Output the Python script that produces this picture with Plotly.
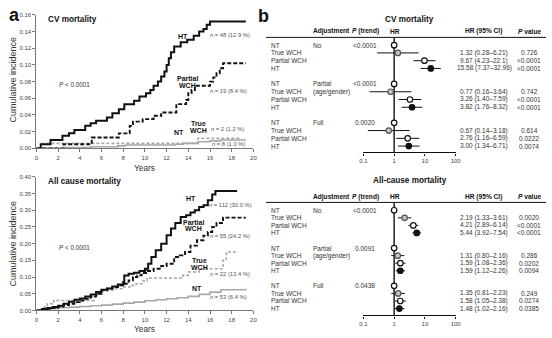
import plotly.graph_objects as go

W, H = 552, 338
def fx(p): return p / W
def fy(p): return 1 - p / H

FONT = "Liberation Sans, Arial, sans-serif"

# ---------------- Panel a: cumulative incidence data ----------------
year_ticks = [0, 2, 4, 6, 8, 10, 12, 14, 16, 18, 20]

# CV mortality
cv_ht_t = [0, 0.4, 1.3, 2.4, 3.0, 3.5, 4.5, 5.0, 5.5, 6.5, 7.0, 7.6, 8.1, 9.0, 9.5, 10.1, 10.5, 10.8, 11.2, 11.5, 11.8, 12.0, 12.2, 12.4, 12.7, 13.3, 13.9, 14.5, 15.0, 15.4, 15.7, 16.0, 19.3]
cv_ht_v = [0, 0.005, 0.010, 0.015, 0.018, 0.022, 0.027, 0.030, 0.033, 0.037, 0.042, 0.047, 0.053, 0.057, 0.062, 0.066, 0.070, 0.075, 0.080, 0.086, 0.092, 0.100, 0.108, 0.115, 0.122, 0.127, 0.130, 0.135, 0.140, 0.143, 0.148, 0.152, 0.152]
cv_pw_t = [0, 2.5, 5.1, 7.6, 8.6, 8.9, 9.8, 10.8, 11.5, 12.9, 13.8, 14.0, 14.3, 14.6, 16.0, 16.3, 16.6, 16.9, 17.2, 19.3]
cv_pw_v = [0, 0.005, 0.013, 0.018, 0.027, 0.032, 0.035, 0.039, 0.043, 0.053, 0.058, 0.066, 0.070, 0.075, 0.080, 0.085, 0.090, 0.096, 0.102, 0.102]
cv_tw_t = [0, 0.6, 14.9, 18.9]
cv_tw_v = [0, 0.006, 0.012, 0.012]
cv_nt_t = [0, 2.5, 5.0, 7.5, 8.2, 12.8, 13.5, 14.9, 16.0, 17.0, 19.3]
cv_nt_v = [0, 0.001, 0.002, 0.003, 0.004, 0.005, 0.006, 0.008, 0.009, 0.010, 0.010]

# All cause mortality
ac_ht_t = [0, 0.5, 1, 1.5, 2, 2.5, 3, 3.5, 4, 4.5, 5, 5.5, 6, 6.5, 7, 7.5, 8.0, 8.1, 8.5, 9, 9.5, 10, 10.3, 10.6, 11, 11.5, 12, 12.4, 12.8, 13.3, 13.8, 14.2, 14.6, 15.0, 15.4, 15.8, 16.2, 16.5, 18.5]
ac_ht_v = [0, 0.004, 0.007, 0.010, 0.014, 0.020, 0.026, 0.032, 0.036, 0.042, 0.048, 0.055, 0.062, 0.066, 0.072, 0.078, 0.085, 0.105, 0.110, 0.113, 0.118, 0.125, 0.140, 0.160, 0.180, 0.200, 0.225, 0.245, 0.262, 0.280, 0.285, 0.293, 0.300, 0.310, 0.315, 0.330, 0.347, 0.358, 0.358]
ac_pw_t = [0, 0.8, 1.5, 2, 2.5, 3, 3.5, 4, 4.5, 5, 5.5, 6, 6.5, 7, 7.5, 8, 8.5, 8.9, 9.3, 9.7, 10.2, 10.8, 11.5, 12, 12.7, 13.2, 13.7, 14.2, 14.8, 15.4, 15.8, 16.2, 16.6, 17.2, 19.3]
ac_pw_v = [0, 0.005, 0.008, 0.012, 0.016, 0.020, 0.025, 0.030, 0.035, 0.042, 0.050, 0.060, 0.065, 0.070, 0.075, 0.080, 0.090, 0.100, 0.105, 0.112, 0.118, 0.125, 0.133, 0.140, 0.160, 0.165, 0.175, 0.194, 0.210, 0.224, 0.235, 0.250, 0.262, 0.278, 0.278]
ac_tw_t = [0, 0.6, 1.0, 1.6, 5.3, 5.6, 6.0, 7.0, 8.0, 8.6, 9.2, 9.8, 10.2, 13.5, 14.0, 15.0, 17.2, 17.5, 18.6]
ac_tw_v = [0, 0.010, 0.020, 0.030, 0.040, 0.050, 0.060, 0.065, 0.070, 0.075, 0.080, 0.088, 0.097, 0.105, 0.115, 0.125, 0.150, 0.175, 0.175]
ac_nt_t = [0, 0.5, 1, 2, 3, 4, 5, 6, 7, 8, 9, 10, 11, 12, 13, 14, 15, 16, 17, 19.3]
ac_nt_v = [0, 0.002, 0.005, 0.008, 0.010, 0.012, 0.014, 0.016, 0.019, 0.022, 0.025, 0.029, 0.032, 0.035, 0.038, 0.042, 0.048, 0.055, 0.062, 0.065]

# ---------------- Panel b: forest plot data ----------------
categories = ["NT", "True WCH", "Partial WCH", "HT"]
adjust_lines = [["No"], ["Partial", "(age/gender)"], ["Full"]]

cv_hr = [[1, 1.32, 9.67, 15.58], [1, 0.77, 3.26, 3.82], [1, 0.67, 2.76, 3.00]]
cv_lo = [[1, 0.28, 4.23, 7.37], [1, 0.16, 1.40, 1.76], [1, 0.14, 1.16, 1.34]]
cv_hi = [[1, 6.21, 22.1, 32.96], [1, 3.64, 7.59, 8.32], [1, 3.18, 6.59, 6.71]]
cv_ptrend = ["<0.0001", "<0.0001", "0.0020"]
cv_ci_text = [["", "1.32 (0.28–6.21)", "9.67 (4.23–22.1)", "15.58 (7.37–32.96)"],
              ["", "0.77 (0.16–3.64)", "3.26 (1.40–7.59)", "3.82 (1.76–8.32)"],
              ["", "0.67 (0.14–3.18)", "2.76 (1.16–6.59)", "3.00 (1.34–6.71)"]]
cv_pval = [["", "0.726", "<0.0001", "<0.0001"],
           ["", "0.742", "<0.0001", "<0.0001"],
           ["", "0.614", "0.0222", "0.0074"]]

ac_hr = [[1, 2.19, 4.21, 5.44], [1, 1.31, 1.59, 1.59], [1, 1.35, 1.58, 1.48]]
ac_lo = [[1, 1.33, 2.89, 3.92], [1, 0.80, 1.08, 1.12], [1, 0.81, 1.05, 1.02]]
ac_hi = [[1, 3.61, 6.14, 7.54], [1, 2.16, 2.36, 2.26], [1, 2.23, 2.38, 2.16]]
ac_ptrend = ["<0.0001", "0.0091", "0.0438"]
ac_ci_text = [["", "2.19 (1.33–3.61)", "4.21 (2.89–6.14)", "5.44 (3.92–7.54)"],
              ["", "1.31 (0.80–2.16)", "1.59 (1.08–2.36)", "1.59 (1.12–2.26)"],
              ["", "1.35 (0.81–2.23)", "1.58 (1.05–2.38)", "1.48 (1.02–2.16)"]]
ac_pval = [["", "0.0020", "<0.0001", "<0.0001"],
           ["", "0.286", "0.0202", "0.0094"],
           ["", "0.249", "0.0274", "0.0385"]]

hr_ticks = [0.1, 1, 10, 100]
hr_ticktext = ["0.1", "1", "10", "100"]

fig = go.Figure()

def km(t, v, xa, ya, color, width, dash):
    fig.add_trace(go.Scatter(x=t, y=v, mode="lines", xaxis=xa, yaxis=ya,
                             line=dict(color=color, width=width, dash=dash, shape="hv"),
                             showlegend=False, hoverinfo="skip"))

GREY = "#a8a8a8"
km(cv_nt_t, cv_nt_v, "x", "y", GREY, 1.6, "solid")
km(cv_tw_t, cv_tw_v, "x", "y", GREY, 1.6, "3px,2px")
km(cv_pw_t, cv_pw_v, "x", "y", "#111", 1.9, "4px,2px")
km(cv_ht_t, cv_ht_v, "x", "y", "#111", 2.0, "solid")
km(ac_nt_t, ac_nt_v, "x2", "y2", GREY, 1.6, "solid")
km(ac_tw_t, ac_tw_v, "x2", "y2", GREY, 1.6, "3px,2px")
km(ac_pw_t, ac_pw_v, "x2", "y2", "#111", 1.9, "4px,2px")
km(ac_ht_t, ac_ht_v, "x2", "y2", "#111", 2.0, "solid")

marker_styles = [
    dict(color="white", line=dict(color="#111", width=1.2)),
    dict(color="#c4c4c4", line=dict(color="#555", width=1.2)),
    dict(color="white", line=dict(color="#111", width=1.2)),
    dict(color="#111", line=dict(color="#111", width=1.2)),
]

def forest(hr, lo, hi, xa, ya):
    for i, cat in enumerate(categories):
        xs = [hr[g][i] for g in range(3)]
        ys = [g * 5 + i for g in range(3)]
        if i == 0:
            fig.add_trace(go.Scatter(x=xs, y=ys, mode="markers", xaxis=xa, yaxis=ya,
                                     marker=dict(size=5.5, symbol="circle", **marker_styles[i]),
                                     showlegend=False, hoverinfo="skip", cliponaxis=False))
        else:
            plus = [hi[g][i] - hr[g][i] for g in range(3)]
            minus = [hr[g][i] - lo[g][i] for g in range(3)]
            fig.add_trace(go.Scatter(x=xs, y=ys, mode="markers", xaxis=xa, yaxis=ya,
                                     error_x=dict(type="data", array=plus, arrayminus=minus,
                                                  color="#111", thickness=1, width=0),
                                     marker=dict(size=5.5, symbol="circle", **marker_styles[i]),
                                     showlegend=False, hoverinfo="skip", cliponaxis=False))

forest(cv_hr, cv_lo, cv_hi, "x3", "y3")
forest(ac_hr, ac_lo, ac_hi, "x4", "y4")

annotations = []
def ann(text, x, y, size, xanchor="center", color="#333", bold=False, xref="paper", yref="paper", yanchor="middle", textangle=0):
    if bold:
        text = "<b>" + text + "</b>"
    annotations.append(dict(text=text, x=x, y=y, xref=xref, yref=yref, showarrow=False,
                            xanchor=xanchor, yanchor=yanchor, textangle=textangle,
                            font=dict(size=size, color=color, family=FONT)))

# panel letters
ann("a", fx(3), fy(12), 18, xanchor="left", color="#111", bold=True)
ann("b", fx(257), fy(13), 18, xanchor="left", color="#111", bold=True)

# panel a texts
ann("Cumulative incidence", fx(9), fy(78), 9, textangle=-90)
ann("Cumulative incidence", fx(9), fy(245), 9, textangle=-90)
ann("Years", fx(143), fy(168), 8.3)
ann("Years", fx(143), fy(332), 8.3)
ann("CV mortality", fx(43), fy(17), 8.2, xanchor="left", color="#111", bold=True)
ann("All cause mortality", fx(43), fy(182), 8.2, xanchor="left", color="#111", bold=True)
ann("<i>P</i> < 0.0001", fx(54), fy(83), 6.3, xanchor="left")
ann("<i>P</i> < 0.0001", fx(54), fy(249), 6.3, xanchor="left")

NCOL = "#555"
ann("HT", fx(182), fy(34), 7, color="#111", bold=True)
ann("<i>n</i> = 48 (12.9 %)", fx(208), fy(33), 5.8, xanchor="left", color=NCOL)
ann("Partial", fx(187), fy(77), 7, color="#111", bold=True)
ann("WCH", fx(187), fy(84), 7, color="#111", bold=True)
ann("<i>n</i> = 19 (8.4 %)", fx(208), fy(90), 5.8, xanchor="left", color=NCOL)
ann("True", fx(198), fy(123), 7, color="#111", bold=True)
ann("WCH", fx(198), fy(130), 7, color="#111", bold=True)
ann("NT", fx(178), fy(132), 7, color="#111", bold=True)
ann("<i>n</i> = 2 (1.2 %)", fx(209), fy(128), 5.8, xanchor="left", color=NCOL)
ann("<i>n</i> = 8 (1.0 %)", fx(210), fy(144), 5.8, xanchor="left", color=NCOL)

ann("HT", fx(190), fy(199), 7, color="#111", bold=True)
ann("<i>n</i> = 112 (30.0 %)", fx(207), fy(206), 5.8, xanchor="left", color=NCOL)
ann("Partial", fx(193), fy(223), 7, color="#111", bold=True)
ann("WCH", fx(193), fy(230), 7, color="#111", bold=True)
ann("<i>n</i> = 55 (24.2 %)", fx(208), fy(237), 5.8, xanchor="left", color=NCOL)
ann("True", fx(199), fy(262), 7, color="#111", bold=True)
ann("WCH", fx(199), fy(269), 7, color="#111", bold=True)
ann("<i>n</i> = 22 (13.4 %)", fx(208), fy(276), 5.8, xanchor="left", color=NCOL)
ann("NT", fx(197), fy(291), 7, color="#111", bold=True)
ann("<i>n</i> = 53 (6.4 %)", fx(208), fy(299), 5.8, xanchor="left", color=NCOL)

# panel b texts
def forest_text(title, title_y, head_y, ya, ptrend, ci_text, pval):
    ann(title, fx(413), fy(title_y), 8.2, color="#111", bold=True)
    ann("Adjustment", fx(313), fy(head_y), 6.6, xanchor="left", color="#111", bold=True)
    ann("<i>P</i> (trend)", fx(368), fy(head_y), 6.6, color="#111", bold=True)
    ann("HR", fx(398), fy(head_y), 6.6, color="#111", bold=True)
    ann("HR (95% CI)", fx(488), fy(head_y), 6.6, color="#111", bold=True)
    ann("<i>P</i> value", fx(535), fy(head_y), 6.6, color="#111", bold=True)
    for g in range(3):
        for i, cat in enumerate(categories):
            idx = g * 5 + i
            ann(cat, fx(270), idx, 6.5, xanchor="left", yref=ya)
            if ci_text[g][i]:
                ann(ci_text[g][i], fx(489), idx, 6.5, yref=ya)
            if pval[g][i]:
                ann(pval[g][i], fx(535), idx, 6.5, yref=ya)
        for j, line in enumerate(adjust_lines[g]):
            ann(line, fx(313), g * 5 + j, 6.5, xanchor="left", yref=ya)
        ann(ptrend[g], fx(368), g * 5, 6.5, yref=ya)

forest_text("CV mortality", 17, 29, "y3", cv_ptrend, cv_ci_text, cv_pval)
forest_text("All-cause mortality", 181, 197, "y4", ac_ptrend, ac_ci_text, ac_pval)

shapes = [
    dict(type="line", xref="paper", yref="paper", x0=fx(267), x1=1, y0=fy(35), y1=fy(35),
         line=dict(color="#111", width=1)),
    dict(type="line", xref="paper", yref="paper", x0=fx(267), x1=1, y0=fy(203), y1=fy(203),
         line=dict(color="#111", width=1)),
    dict(type="line", xref="x3", yref="y3 domain", x0=1, x1=1, y0=0, y1=1,
         line=dict(color="#111", width=1.4), layer="below"),
    dict(type="line", xref="x4", yref="y4 domain", x0=1, x1=1, y0=0, y1=1,
         line=dict(color="#111", width=1.4), layer="below"),
]

tickfont = dict(size=6, color="#444", family=FONT)
km_x = dict(domain=[fx(33), fx(254)], range=[0, 20], tickvals=year_ticks, showline=True,
            linecolor="#777", linewidth=1, ticks="outside", ticklen=3, tickcolor="#777",
            showgrid=False, zeroline=False, tickfont=tickfont)
km_y = dict(showline=True, linecolor="#777", linewidth=1, ticks="outside", ticklen=3,
            tickcolor="#777", showgrid=False, zeroline=False, tickfont=tickfont, tickformat=".2f")
f_x = dict(type="log", range=[-1, 2], domain=[fx(366), fx(460)], tickvals=hr_ticks,
           ticktext=hr_ticktext, showline=True, linecolor="#111", linewidth=1.4,
           ticks="outside", ticklen=2, tickcolor="#111", showgrid=False, zeroline=False,
           tickfont=tickfont)

fig.update_layout(
    width=W, height=H, margin=dict(l=0, r=0, t=0, b=0),
    paper_bgcolor="white", plot_bgcolor="white",
    font=dict(family=FONT),
    showlegend=False,
    xaxis=dict(anchor="y", **km_x),
    yaxis=dict(anchor="x", domain=[fy(148), fy(12)], range=[0, 0.16], dtick=0.02, **km_y),
    xaxis2=dict(anchor="y2", **km_x),
    yaxis2=dict(anchor="x2", domain=[fy(313), fy(177)], range=[0, 0.40], dtick=0.05, **km_y),
    xaxis3=dict(anchor="y3", **f_x),
    yaxis3=dict(anchor="x3", domain=[fy(152), fy(35)], range=[13.8, -1.0], visible=False),
    xaxis4=dict(anchor="y4", **f_x),
    yaxis4=dict(anchor="x4", domain=[fy(318), fy(203)], range=[13.9, -1.04], visible=False),
    annotations=annotations,
    shapes=shapes,
)

fig.write_html("out.html")
